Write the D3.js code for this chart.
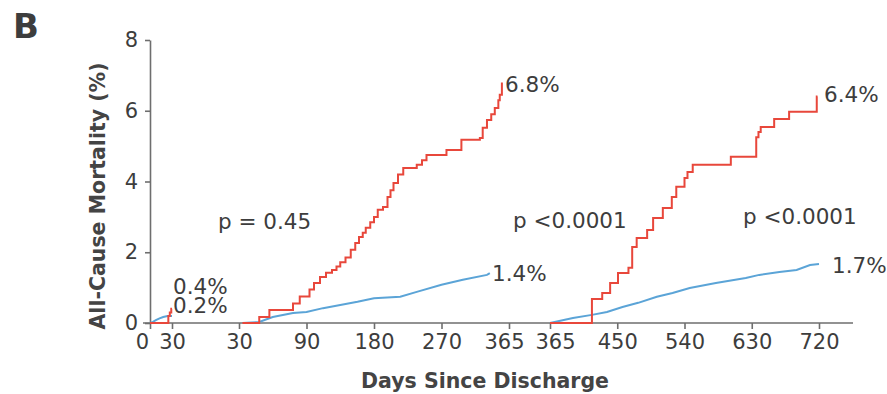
<!DOCTYPE html>
<html>
<head>
<meta charset="utf-8">
<script src="https://cdn.jsdelivr.net/npm/d3@7"></script>
<style>
  body { margin: 0; background: #fff; }
  text { font-family: "DejaVu Sans", sans-serif; fill: #3d3d3d; }
</style>
</head>
<body>
<div id="chart"></div>
<script>
// Tick labels for the three time windows
const seg1Ticks = [0, 30];
const seg2Ticks = [30, 90, 180, 270, 365];
const seg3Ticks = [365, 450, 540, 630, 720];
const yTicks = [0, 2, 4, 6, 8];

// Cumulative mortality (%), [day, value] pairs
const red1 = [[0, 0], [24, 0], [25, 0.2], [27, 0.3], [29, 0.4], [30, 0.4]];
const blue1 = [[0, 0], [4, 0.03], [8, 0.08], [13, 0.13], [18, 0.17], [24, 0.2], [30, 0.2]];

const red2 = [[33, 0], [48, 0.17], [57, 0.37], [78, 0.55], [84, 0.75], [94, 0.95], [100, 1.13],
  [108, 1.3], [116, 1.42], [124, 1.5], [130, 1.6], [135, 1.72], [142, 1.85], [149, 2.07],
  [155, 2.26], [160, 2.43], [165, 2.55], [169, 2.69], [175, 2.85], [180, 3.0], [185, 3.2],
  [192, 3.28], [198, 3.56], [202, 3.75], [206, 3.96], [212, 4.2], [219, 4.38], [237, 4.47],
  [244, 4.6], [250, 4.75], [277, 4.89], [298, 5.18], [324, 5.23], [328, 5.52], [334, 5.74],
  [340, 5.9], [345, 6.08], [350, 6.3], [352, 6.45], [355, 6.8]];
const blue2 = [[33, 0], [48, 0.03], [60, 0.17], [78, 0.28], [90, 0.31], [112, 0.42], [135, 0.51],
  [158, 0.6], [180, 0.7], [215, 0.74], [237, 0.88], [270, 1.08], [300, 1.22], [334, 1.36], [338, 1.41]];

const red3 = [[365, 0], [418, 0.68], [431, 0.85], [441, 1.13], [451, 1.41], [465, 1.56],
  [470, 2.15], [476, 2.4], [490, 2.63], [498, 2.97], [511, 3.25], [523, 3.56], [529, 3.85],
  [540, 4.1], [544, 4.27], [551, 4.47], [602, 4.7], [636, 5.25], [639, 5.4], [642, 5.54],
  [660, 5.77], [680, 5.97], [717, 6.4], [718, 6.4]];
const blue3 = [[365, 0], [394, 0.14], [418, 0.23], [437, 0.31], [457, 0.45], [478, 0.57],
  [503, 0.74], [524, 0.85], [547, 0.99], [582, 1.13], [622, 1.27], [640, 1.36], [667, 1.44],
  [690, 1.5], [708, 1.64], [720, 1.67]];

const width = 887, height = 394;
const red = "#e8473b", blue = "#5ba4d7", axisColor = "#6e6e6e";

const svg = d3.select("#chart").append("svg")
    .attr("width", width)
    .attr("height", height);

const y = d3.scaleLinear().domain([0, 8]).range([323, 40]);

// each window has evenly spaced ticks
const x1 = d3.scaleLinear().domain(seg1Ticks).range([150, 172]);
const x2 = d3.scaleLinear().domain(seg2Ticks).range(seg2Ticks.map((d, i) => 239 + i * 67.5));
const x3 = d3.scaleLinear().domain(seg3Ticks).range(seg3Ticks.map((d, i) => 550 + i * 67.25));

// y axis
const yAxis = svg.append("g")
    .attr("transform", "translate(150,0)")
    .call(d3.axisLeft(y).tickValues(yTicks).tickSize(5).tickSizeOuter(0).tickPadding(7));
yAxis.select(".domain").attr("stroke", axisColor).attr("stroke-width", 1.6);
yAxis.selectAll(".tick line").attr("stroke", axisColor).attr("stroke-width", 1.6);
yAxis.selectAll(".tick text")
    .style("font-family", "DejaVu Sans, sans-serif")
    .style("font-size", "21px")
    .attr("fill", "#3d3d3d");

// x axis baseline
svg.append("line")
    .attr("x1", 143).attr("x2", 853)
    .attr("y1", y(0)).attr("y2", y(0))
    .attr("stroke", axisColor)
    .attr("stroke-width", 1.6);

[[x1, seg1Ticks], [x2, seg2Ticks], [x3, seg3Ticks]].forEach(([xs, ticks], k) => {
    const g = svg.append("g")
        .attr("transform", `translate(0,${y(0)})`)
        .call(d3.axisBottom(xs).tickValues(ticks).tickSize(6).tickSizeOuter(0).tickPadding(5));
    g.select(".domain").remove();
    g.selectAll(".tick line").attr("stroke", axisColor).attr("stroke-width", 1.6);
    g.selectAll(".tick text")
        .style("font-family", "DejaVu Sans, sans-serif")
        .style("font-size", "21px")
        .attr("fill", "#3d3d3d")
        .attr("dx", (d, i) => {
            if (k === 0 && i === 0) return -8;
            if (k === 1 && i === ticks.length - 1) return -5;
            if (k === 2 && i === 0) return 5;
            return 0;
        });
});

// curves
const series = [
    [x1, blue1, blue], [x1, red1, red],
    [x2, blue2, blue], [x2, red2, red],
    [x3, blue3, blue], [x3, red3, red]
];
series.forEach(([xs, data, color]) => {
    const line = d3.line()
        .x(d => xs(d[0]))
        .y(d => y(d[1]))
        .curve(color === red ? d3.curveStepAfter : d3.curveLinear);
    svg.append("path")
        .datum(data)
        .attr("fill", "none")
        .attr("stroke", color)
        .attr("stroke-width", 2)
        .attr("d", line);
});

// labels
const labels = [
    ["p = 0.45", 218, 229], ["p <0.0001", 513, 228], ["p <0.0001", 743, 224],
    ["6.8%", 505, 92], ["6.4%", 824, 102], ["1.4%", 492, 281], ["1.7%", 832, 273],
    ["0.4%", 173, 294], ["0.2%", 173, 313]
];
svg.selectAll(".label")
    .data(labels)
    .enter()
    .append("text")
    .attr("class", "label")
    .attr("x", d => d[1])
    .attr("y", d => d[2])
    .style("font-size", "21.5px")
    .text(d => d[0]);

svg.append("text")
    .attr("x", 485).attr("y", 388)
    .attr("text-anchor", "middle")
    .style("font-size", "20.5px")
    .style("font-weight", 700)
    .style("fill", "#444")
    .text("Days Since Discharge");

svg.append("text")
    .attr("transform", "translate(105,196) rotate(-90)")
    .attr("text-anchor", "middle")
    .style("font-size", "20.5px")
    .style("font-weight", 700)
    .style("fill", "#444")
    .text("All-Cause Mortality (%)");

svg.append("text")
    .attr("x", 13).attr("y", 38)
    .style("font-size", "34px")
    .style("font-weight", 700)
    .text("B");
</script>
</body>
</html>
